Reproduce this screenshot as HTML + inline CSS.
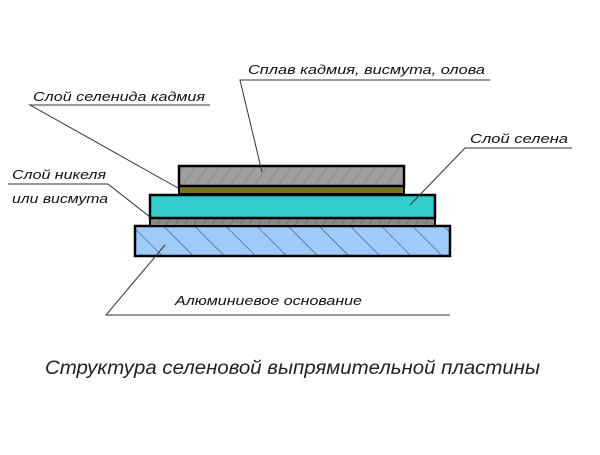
<!DOCTYPE html>
<html><head><meta charset="utf-8"><style>html,body{margin:0;padding:0;background:#fff}</style></head>
<body>
<svg width="600" height="450" xmlns="http://www.w3.org/2000/svg" font-family="Liberation Sans, sans-serif" font-style="italic">
<defs>
<pattern id="h1" width="12" height="20" patternUnits="userSpaceOnUse" patternTransform="skewX(-35)"><rect width="12" height="20" fill="#a0a0a0"/><line x1="0" y1="0" x2="0" y2="20" stroke="#666" stroke-width="1"/></pattern>
<pattern id="h2" width="22" height="22" patternUnits="userSpaceOnUse" patternTransform="rotate(45)"><rect width="22" height="22" fill="#9fcbfa"/><line x1="0" y1="0" x2="22" y2="0" stroke="#335" stroke-width="1"/></pattern>
<pattern id="h3" width="8" height="8" patternUnits="userSpaceOnUse" patternTransform="rotate(30)"><rect width="8" height="8" fill="#8a8a8a"/><line x1="0" y1="0" x2="0" y2="8" stroke="#555" stroke-width="1"/></pattern>
</defs>
<rect x="135" y="226" width="315" height="30" fill="url(#h2)" stroke="#000" stroke-width="2.5"/>
<rect x="150" y="218" width="285" height="8" fill="url(#h3)" stroke="#000" stroke-width="2"/>
<rect x="150" y="195" width="285" height="23" fill="#33cccc" stroke="#000" stroke-width="2.5"/>
<rect x="179" y="186" width="225" height="8" fill="#7a7420" stroke="#000" stroke-width="2"/>
<rect x="179" y="166" width="225" height="20" fill="url(#h1)" stroke="#000" stroke-width="2.5"/>
<g stroke="#333" stroke-width="1" fill="none">
<path d="M490 80 H240 L262 172"/>
<path d="M210 105 H30 L178 188"/>
<path d="M572 148 H465 L410 205"/>
<path d="M8 184 H108 L150 217"/>
<path d="M450 315 H106 L165 245"/>
</g>
<g font-size="13" fill="#111" lengthAdjust="spacingAndGlyphs">
<text x="248" y="74" textLength="237" lengthAdjust="spacingAndGlyphs">Сплав  кадмия, висмута, олова</text>
<text x="33" y="101" textLength="172" lengthAdjust="spacingAndGlyphs">Слой селенида кадмия</text>
<text x="470" y="143" textLength="98" lengthAdjust="spacingAndGlyphs">Слой селена</text>
<text x="12" y="179" textLength="94" lengthAdjust="spacingAndGlyphs">Слой никеля</text>
<text x="12" y="203" textLength="96" lengthAdjust="spacingAndGlyphs">или висмута</text>
<text x="175" y="305" textLength="187" lengthAdjust="spacingAndGlyphs">Алюминиевое основание</text>
</g>
<text x="45" y="374" font-size="19" fill="#222" textLength="495" lengthAdjust="spacingAndGlyphs">Структура селеновой выпрямительной пластины</text>
</svg>
</body></html>
